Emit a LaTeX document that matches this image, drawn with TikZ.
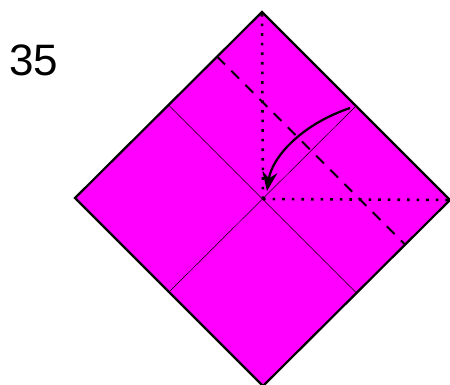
\documentclass[tikz,border=0pt]{standalone}
\usepackage{fontspec}
\setmainfont{Liberation Sans}
\usepackage{xcolor}
\usetikzlibrary{arrows.meta,calc}
\definecolor{paper}{HTML}{FF00FF}

\begin{document}
\begin{tikzpicture}[x=0.5pt,y=-0.5pt, >={Stealth[length=9.5pt,width=7.5pt]},
  edge/.style={draw=black,line width=1.1pt,line join=miter},
  crease/.style={draw=black,line width=0.25pt},
  valley/.style={draw=black,line width=1pt,dash pattern=on 5.5pt off 4.5pt},
  mountain/.style={draw=black,line width=1.3pt,dash pattern=on 1.3pt off 3.5pt},
  move/.style={draw=black,line width=1.1pt,->}]
\useasboundingbox (0,0) rectangle (450,385);
% corners of the square
\coordinate (T) at (262,12);
\coordinate (L) at (75,198);
\coordinate (B) at (263,386);
\coordinate (R) at (450,200);
\coordinate (C) at (263,199);
\filldraw[edge,fill=paper] (T) -- (R) -- (B) -- (L) -- cycle;
% creases through the middle
\draw[crease] ($(T)!0.5!(L)$) -- ($(R)!0.5!(B)$);
\draw[crease] ($(T)!0.5!(R)$) -- ($(L)!0.5!(B)$);
% fold lines
\draw[mountain] (C) -- (T);
\draw[mountain] (C) -- (R);
\draw[valley] ($(T)!0.24!(L)$) -- ($(R)!0.24!(B)$);
% arrow
\coordinate (A) at (350,108);
\draw[move] (A) .. controls (300,125) and (272,158) .. (267,191);
\node[font=\fontsize{22}{26}\selectfont,anchor=west,inner sep=0pt] (num) at (9,60) {35};
\end{tikzpicture}
\end{document}
